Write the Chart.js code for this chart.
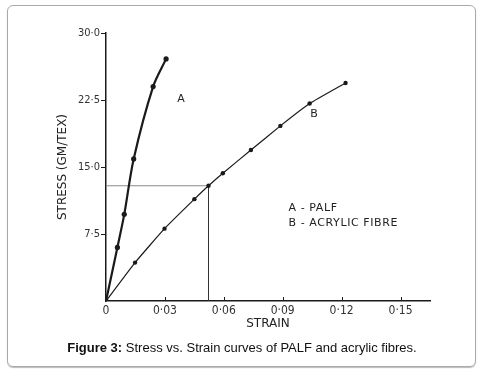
<!DOCTYPE html>
<html>
<head>
<meta charset="utf-8">
<script src="https://cdn.jsdelivr.net/npm/chart.js@4/dist/chart.umd.min.js"></script>
<style>
  body { margin: 0; background: #fff; }
  #frame { position: absolute; left: 7px; top: 5px; width: 467px; height: 360px;
    border: 1px solid #aaa; border-radius: 6px; box-shadow: 0 1px 1px #bbb; }
  #wrap { position: absolute; left: 0; top: 0; width: 484px; height: 376px; }
  #caption { position: absolute; left: 0; width: 484px; top: 340px; text-align: center;
    font: 13px "Liberation Sans", Arial, sans-serif; color: #111; }
</style>
</head>
<body>
<div id="frame"></div>
<div id="wrap"><canvas id="chart" width="484" height="376"></canvas></div>
<div id="caption"><b>Figure 3:</b> Stress vs. Strain curves of PALF and acrylic fibres.</div>
<script>
"use strict";

// curve A - PALF
var palfStrain = [0, 0.0058, 0.0093, 0.0141, 0.0240, 0.0306];
var palfStress = [0, 6.0, 9.7, 15.9, 24.0, 27.1];

// curve B - acrylic fibre
var acrylicStrain = [0, 0.0148, 0.0298, 0.0450, 0.0522, 0.0595, 0.0738, 0.0888, 0.1037, 0.1220];
var acrylicStress = [0, 4.3, 8.1, 11.4, 12.9, 14.3, 16.9, 19.6, 22.1, 24.4];

// guide lines read at the crossing point
var guideStrain = 0.0522;
var guideStress = 12.9;

var xTicks = [0, 0.03, 0.06, 0.09, 0.12, 0.15];
var xTickLabels = ['0', '0·03', '0·06', '0·09', '0·12', '0·15'];
var yTicks = [7.5, 15, 22.5, 30];
var yTickLabels = ['7·5', '15·0', '22·5', '30·0'];

function toPoints(xs, ys) {
	return xs.map(function (x, i) { return {x: x, y: ys[i]}; });
}

var ink = '#1a1a1a';
var labelFont = '"DejaVu Sans Condensed", "DejaVu Sans", sans-serif';
var titleFont = '"DejaVu Sans", sans-serif';

var notes = [
	{text: 'A', x: 0.0383, y: 22.6},
	{text: 'B', x: 0.1061, y: 20.9},
	{text: 'A - PALF', x: 0.0929, y: 10.4, left: true},
	{text: 'B - ACRYLIC FIBRE', x: 0.0929, y: 8.7, left: true}
];

var notesPlugin = {
	id: 'notes',
	afterDraw: function (chart) {
		var ctx = chart.ctx;
		var xs = chart.scales.x, ys = chart.scales.y;
		ctx.save();
		// small inward tick marks on the strain axis
		ctx.strokeStyle = ink;
		ctx.lineWidth = 1;
		xTicks.forEach(function (v) {
			if (v === 0) { return; }
			var px = Math.round(xs.getPixelForValue(v)) + 0.5;
			ctx.beginPath();
			ctx.moveTo(px, ys.bottom);
			ctx.lineTo(px, ys.bottom - 4);
			ctx.stroke();
		});
		ctx.fillStyle = '#222';
		ctx.font = '11px ' + titleFont;
		ctx.letterSpacing = '0.6px';
		ctx.textBaseline = 'middle';
		notes.forEach(function (n) {
			ctx.textAlign = n.left ? 'left' : 'center';
			ctx.fillText(n.text, xs.getPixelForValue(n.x), ys.getPixelForValue(n.y));
		});
		ctx.restore();
	}
};

var ctx = document.getElementById('chart').getContext('2d');
var chart = new Chart(ctx, {
	type: 'line',
	data: {
		datasets: [{
			label: 'A - PALF',
			data: toPoints(palfStrain, palfStress),
			borderColor: ink,
			backgroundColor: ink,
			borderWidth: 2.2,
			pointRadius: 2.6,
			pointBorderWidth: 0,
			tension: 0.3
		}, {
			label: 'B - ACRYLIC FIBRE',
			data: toPoints(acrylicStrain, acrylicStress),
			borderColor: ink,
			backgroundColor: ink,
			borderWidth: 1.2,
			pointRadius: 2.2,
			pointBorderWidth: 0,
			tension: 0.12
		}, {
			label: 'guide h',
			data: toPoints([0, guideStrain], [guideStress, guideStress]),
			borderColor: '#8a8a8a',
			borderWidth: 1,
			pointRadius: 0
		}, {
			label: 'guide v',
			data: toPoints([guideStrain, guideStrain], [guideStress, 0]),
			borderColor: '#333',
			borderWidth: 1,
			pointRadius: 0
		}]
	},
	options: {
		responsive: false,
		animation: false,
		layout: {padding: {left: 40, right: 54, top: 33, bottom: 35}},
		plugins: {legend: {display: false}, tooltip: {enabled: false}},
		scales: {
			x: {
				type: 'linear',
				min: 0,
				max: 0.165,
				afterBuildTicks: function (s) { s.ticks = xTicks.map(function (v) { return {value: v}; }); },
				afterFit: function (s) { s.height = 40; },
				grid: {display: false, drawTicks: false},
				border: {display: true, color: ink, width: 1.5},
				ticks: {
					padding: 3,
					color: '#333',
					font: {family: labelFont, size: 12},
					maxRotation: 0,
					callback: function (v) { return xTickLabels[xTicks.indexOf(v)]; }
				},
				title: {display: true, text: 'STRAIN', color: '#222',
					font: {family: titleFont, size: 12}, padding: {bottom: 10}}
			},
			y: {
				min: 0,
				max: 30,
				afterBuildTicks: function (s) { s.ticks = yTicks.map(function (v) { return {value: v}; }); },
				afterFit: function (s) { s.width = 66; },
				grid: {display: true, drawOnChartArea: false, drawTicks: true, tickLength: 5, color: ink},
				border: {display: true, color: ink, width: 1.5},
				ticks: {
					padding: 1,
					color: '#333',
					font: {family: labelFont, size: 11},
					callback: function (v) { return yTickLabels[yTicks.indexOf(v)]; }
				},
				title: {display: true, text: 'STRESS (GM/TEX)', color: '#222',
					font: {family: titleFont, size: 12}, padding: {top: 16}}
			}
		}
	},
	plugins: [notesPlugin]
});
</script>
</body>
</html>
